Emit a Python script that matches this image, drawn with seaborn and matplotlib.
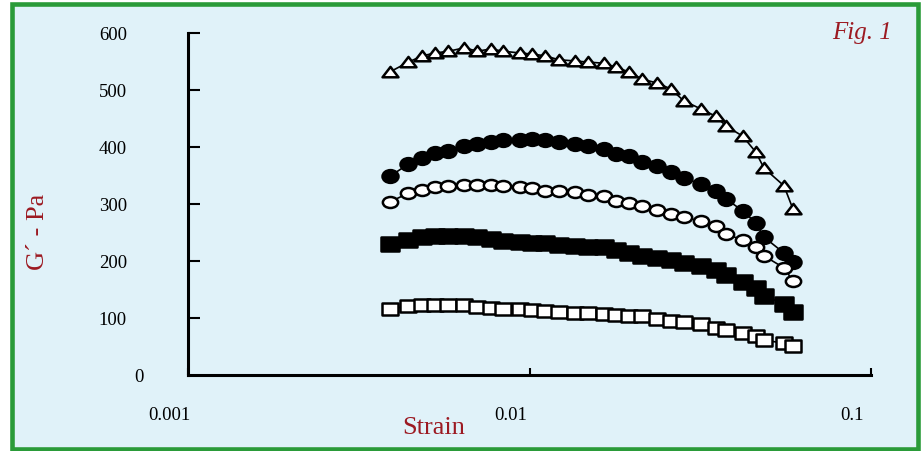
import seaborn as sns
import matplotlib.pyplot as plt
from matplotlib.patches import Rectangle
from matplotlib.path import Path
from matplotlib.transforms import Affine2D, ScaledTranslation, blended_transform_factory
from matplotlib.ticker import NullLocator

# strain sweep (shared by all samples)
strain = [0.00391, 0.00442, 0.00486, 0.00530, 0.00579, 0.00645, 0.00704, 0.00769,
          0.00839, 0.00935, 0.0102, 0.0111, 0.0122, 0.0136, 0.0148, 0.0165,
          0.0179, 0.0195, 0.0214, 0.0237, 0.0259, 0.0283, 0.0317, 0.0351,
          0.0376, 0.0421, 0.0460, 0.0486, 0.0556, 0.0591]

# storage modulus G' (Pa) for the five samples
g_triangle = [532, 549, 560, 565, 568, 574, 568, 572, 568, 565, 563, 560, 553, 551, 549,
              547, 540, 532, 519, 512, 502, 481, 467, 454, 437, 419, 391, 363, 332, 291]
g_circle_filled = [349, 370, 381, 389, 393, 402, 405, 409, 412, 412, 414, 412, 409, 405, 402,
                   396, 388, 384, 374, 367, 356, 346, 335, 323, 309, 288, 267, 242, 214, 198]
g_circle_open = [304, 319, 325, 330, 332, 333, 333, 333, 332, 330, 328, 323, 323, 321, 316,
                 314, 305, 302, 296, 289, 282, 277, 270, 261, 247, 237, 225, 209, 188, 165]
g_square_filled = [230, 237, 242, 244, 244, 244, 242, 239, 235, 233, 232, 232, 228, 226, 225,
                   225, 219, 214, 209, 205, 202, 196, 191, 184, 175, 163, 153, 139, 125, 111]
g_square_open = [116, 121, 123, 123, 123, 123, 119, 118, 116, 116, 114, 112, 111, 109, 109,
                 107, 105, 104, 104, 98, 95, 93, 90, 82, 79, 74, 68, 61, 56, 51]

y_ticks = [100, 200, 300, 400, 500, 600]
x_ticks = [0.001, 0.01, 0.1]
x_labels = ["0.001", "0.01", "0.1"]

bg = "#e0f2f9"
green = "#2a9b39"
red = "#9c1a22"

sns.set_theme(style="ticks")
plt.rcParams["font.family"] = ["Liberation Serif", "DejaVu Serif"]


def squashed(path, ry):
    return path.transformed(Affine2D().scale(1, ry))


tri = Path([(-1, -0.6), (1, -0.6), (0, 0.7), (-1, -0.6)], closed=True)
ell_f = squashed(Path.unit_circle(), 0.8)
ell_o = squashed(Path.unit_circle(), 0.72)
box = Path.unit_rectangle().transformed(Affine2D().translate(-0.5, -0.5))
sq_f = squashed(box, 0.85)
sq_o = squashed(box, 0.75)

fig = plt.figure(figsize=(9.22, 4.52), dpi=100)
fig.patch.set_facecolor("white")
fig.add_artist(Rectangle((12 / 922, 2 / 452), 906 / 922, 445 / 452, transform=fig.transFigure,
                         facecolor=bg, edgecolor=green, linewidth=3.3, zorder=-10))

ax = fig.add_axes([188 / 922, 76 / 452, 683 / 922, 342 / 452])
ax.set_facecolor("none")
ax.set_xscale("log")

series = [
    (g_triangle, tri, "white", 11.5),
    (g_circle_filled, ell_f, "black", 11.5),
    (g_circle_open, ell_o, "white", 11),
    (g_square_filled, sq_f, "black", 12.5),
    (g_square_open, sq_o, "white", 11),
]
for vals, mk, fc, size in series:
    sns.lineplot(x=strain, y=vals, ax=ax, color="black", linewidth=1.2,
                 marker=mk, markersize=size, markerfacecolor=fc,
                 markeredgecolor="black", markeredgewidth=1.8)

ax.set_xlim(0.001, 0.1)
ax.set_ylim(0, 600)
ax.set_xlabel("")
ax.set_ylabel("")
sns.despine(ax=ax)
for side in ["left", "bottom"]:
    ax.spines[side].set_linewidth(2.2)
    ax.spines[side].set_color("black")

ax.set_yticks(y_ticks)
ax.set_yticklabels([str(v) for v in y_ticks])
ax.set_xticks(x_ticks)
ax.set_xticklabels(x_labels)
ax.xaxis.set_minor_locator(NullLocator())
ax.tick_params(axis="y", direction="in", length=8.6, width=1.5, pad=44, labelsize=13.5,
               colors="black")
ax.tick_params(axis="x", direction="in", length=5, width=1.5, pad=22, labelsize=13.5,
               colors="black")
shift = ScaledTranslation(-19 / 100, 0, fig.dpi_scale_trans)
for lab in ax.get_xticklabels():
    lab.set_transform(lab.get_transform() + shift)

ax.text(-0.0717, -3, "0", transform=blended_transform_factory(ax.transAxes, ax.transData),
        ha="center", va="center", fontsize=13.5, color="black")

fig.text(38 / 922, 1 - 232 / 452, "G\u00b4 - Pa", rotation=90, color=red, fontsize=19,
         ha="center", va="center")
fig.text(434 / 922, 1 - 428 / 452, "Strain", color=red, fontsize=19, ha="center", va="center")
fig.text(862 / 922, 1 - 33 / 452, "Fig. 1", color=red, fontsize=18, style="italic",
         ha="center", va="center")

fig.savefig("out.png", dpi=100)
